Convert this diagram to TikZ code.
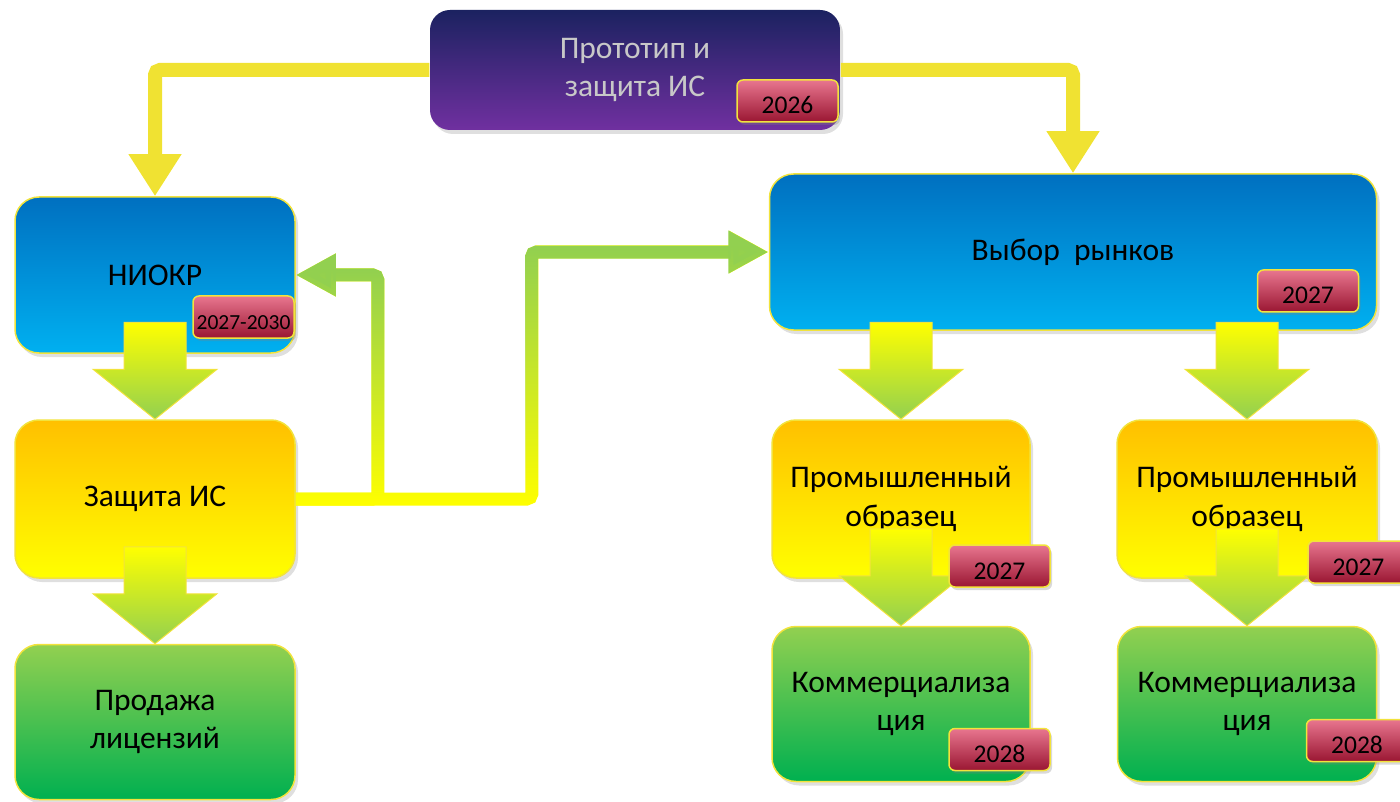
\documentclass[tikz,border=0pt]{standalone}
\usepackage{fontspec}
\setmainfont{Carlito}
\usepackage{tikz}
\usetikzlibrary{calc,arrows.meta,fadings,shadows}
\definecolor{bluetop}{HTML}{0070C0}
\definecolor{bluebot}{HTML}{00B0F0}
\definecolor{orangetop}{HTML}{FFC000}
\definecolor{yellowbot}{HTML}{FFFF00}
\definecolor{greentop}{HTML}{92D050}
\definecolor{greenbot}{HTML}{00B050}
\definecolor{purpletop}{HTML}{1B2260}
\definecolor{purplebot}{HTML}{7030A0}
\definecolor{badgetop}{HTML}{E8768F}
\definecolor{badgebot}{HTML}{9A1632}
\definecolor{rim}{HTML}{F2E33C}
\definecolor{connyellow}{HTML}{F0E232}
\definecolor{protext}{HTML}{C8C8C8}
\tikzset{
    box/.style={draw=rim, line width=1.5pt, rounded corners=24pt, inner sep=0pt,
    	align=center, font=\fontsize{31.5}{38.5}\selectfont,
    	drop shadow={opacity=0.25, shadow xshift=3pt, shadow yshift=-4pt}},
    bluebox/.style={box, top color=bluetop, bottom color=bluebot},
    orangebox/.style={box, top color=orangetop, bottom color=yellowbot},
    greenbox/.style={box, top color=greentop, bottom color=greenbot},
    protobox/.style={box, draw=none, rounded corners=20pt, text=protext,
    	top color=purpletop, bottom color=purplebot}
}
\tikzset{
    badge/.style={draw=rim, line width=1.5pt, rounded corners=6pt, inner sep=0pt,
    	minimum width=101pt, minimum height=42pt, anchor=south east,
    	text height=26pt, text depth=0pt,
    	top color=badgetop, bottom color=badgebot,
    	font=\fontsize{25.5}{28}\selectfont,
    	drop shadow={opacity=0.3, shadow xshift=2pt, shadow yshift=-3pt}},
    smallbadge/.style={badge, text height=24pt, font=\fontsize{21.5}{24}\selectfont},
    blockarr/.style={draw=rim, line width=1pt, top color=yellowbot, bottom color=greentop}
}
\tikzset{
    yconn/.style={draw=connyellow, line width=14pt, rounded corners=5pt,
    	-{Triangle[width=50pt,length=42pt]}},
    gconn/.style={draw=yellowbot, line width=13pt, rounded corners=5pt,
    	-{Triangle[width=40pt,length=40pt]},
    	postaction={draw=greentop, path fading=south}}
}
\newcommand{\fatarrow}[1]{%
	\shade[blockarr] (#1.north) -- ++(-62,-50) -- ++(31,0) -- ++(0,-47)
		-- ++(62,0) -- ++(0,47) -- ++(31,0) -- cycle;}

\begin{document}
\begin{tikzpicture}[x=1pt, y=-1pt]
	\useasboundingbox (0,0) rectangle (1400,802);

	\node (proto) [protobox, minimum width=410pt, minimum height=120pt] at (635,70)
		{Прототип и\\защита ИС};
	\node (niokr) [bluebox, minimum width=280pt, minimum height=156pt] at (155,275) {НИОКР};
	\node (zash) [orangebox, minimum width=280pt, minimum height=158pt] at (155,499) {Защита ИС};
	\node (prod) [greenbox, minimum width=280pt, minimum height=155pt] at (155,722)
		{Продажа\\лицензий};
	\node (vybor) [bluebox, minimum width=607pt, minimum height=156pt] at (1073,252)
		{Выбор\ \ рынков};
	\node (prom1) [orangebox, minimum width=258pt, minimum height=158pt] at (901,499)
		{Промышленный\\образец};
	\node (prom2) [orangebox, minimum width=260pt, minimum height=158pt] at (1247,499)
		{Промышленный\\образец};
	\node (kom1) [greenbox, minimum width=258pt, minimum height=155pt] at (901,704)
		{Коммерциализа\\ция};
	\node (kom2) [greenbox, minimum width=259pt, minimum height=155pt] at (1247,704)
		{Коммерциализа\\ция};

	\draw[yconn] (proto.west) -| (niokr.north);
	\draw[yconn] (proto.east) -| (vybor.north);
	\draw[gconn] (zash.east) -| ($(niokr.east)+(82,0)$) -- (niokr.east);
	\draw[gconn] (zash.east) -| ($(vybor.west)+(-237,0)$) -- (vybor.west);

	\fatarrow{zash} \fatarrow{prod}
	\fatarrow{prom1} \fatarrow{prom2}
	\fatarrow{kom1} \fatarrow{kom2}

	\node (b1) [badge] at ($(proto.south east)+(-2,-8)$) {2026};
	\node (b2) [smallbadge] at ($(niokr.south east)+(-1,-15)$) {2027-2030};
	\node (b3) [badge] at ($(vybor.south east)+(-18,-18)$) {2027};
	\node (b4) [badge] at ($(prom1.south east)+(20,9)$) {2027};
	\node (b5) [badge] at ($(prom2.south east)+(32,5)$) {2027};
	\node (b6) [badge] at ($(kom1.south east)+(20,-11)$) {2028};
	\node (b7) [badge] at ($(kom2.south east)+(31,-20)$) {2028};
\end{tikzpicture}
\end{document}
